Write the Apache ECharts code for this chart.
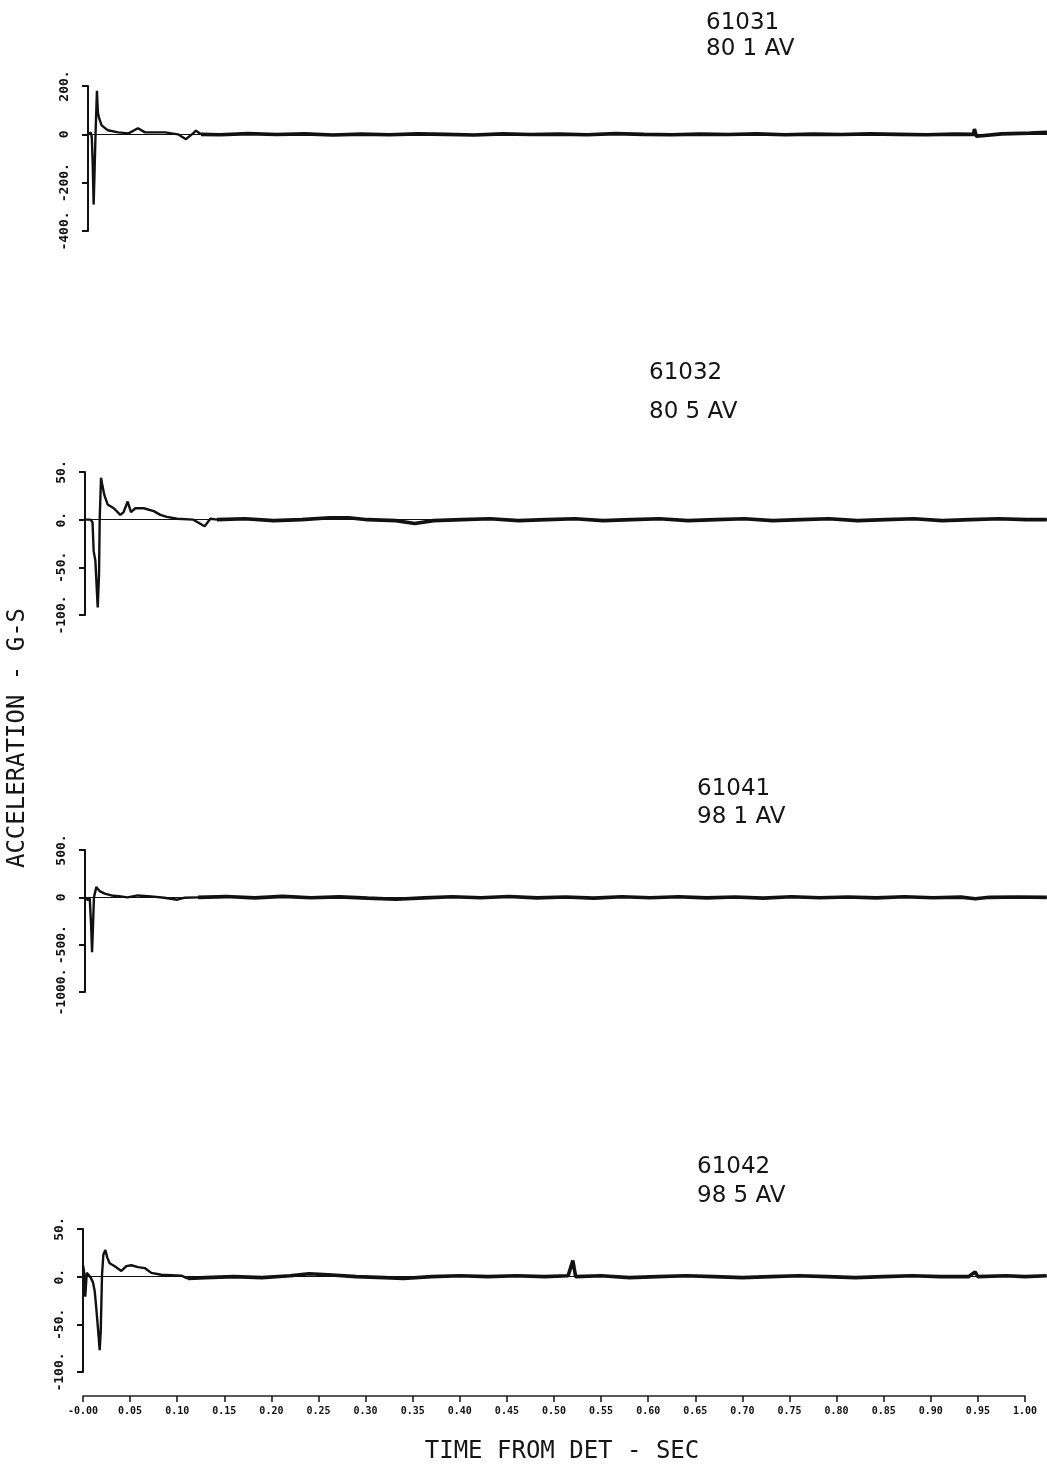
<!DOCTYPE html>
<html>
<head>
<meta charset="utf-8">
<script src="https://cdn.jsdelivr.net/npm/echarts@6/dist/echarts.min.js"></script>
<style>
html,body{margin:0;padding:0;background:#fff;}
#chart{width:1047px;height:1467px;}
</style>
</head>
<body>
<div id="chart"></div>
<script>
// ---------- DATA (time in sec, acceleration in G) ----------
// Panel 1: 61031 / 80 1 AV
var trans61031 = [[0,0],[0.002,-6],[0.003,8],[0.004,-12],[0.005,-120],[0.006,-290],[0.007,-150],[0.008,0],[0.0095,180],[0.0105,90],[0.0118,67],[0.0145,37],[0.021,17],[0.032,8],[0.043,4],[0.053,25],[0.0605,8],[0.082,8],[0.0955,0],[0.104,-20],[0.1115,4],[0.1146,15],[0.12,0]];
var flat61031 = [[0.12,0],[0.14,-2],[0.17,3],[0.2,-1],[0.23,2],[0.26,-3],[0.29,1],[0.32,-2],[0.35,2],[0.38,0],[0.41,-3],[0.44,2],[0.47,-1],[0.5,1],[0.53,-2],[0.56,3],[0.59,0],[0.62,-2],[0.65,1],[0.68,-1],[0.71,2],[0.74,-2],[0.77,1],[0.8,-1],[0.83,2],[0.86,0],[0.89,-2],[0.92,1],[0.94,0],[0.941,22],[0.943,-8],[0.945,0],[0.97,2],[1.0,5],[1.018,8]];
// Panel 2: 61032 / 80 5 AV
var trans61032 = [[0,0],[0.006,0],[0.008,-3],[0.0092,-33],[0.011,-43],[0.0135,-92],[0.0149,-57],[0.0156,0],[0.017,44],[0.0184,36],[0.0205,26],[0.0226,28],[0.024,16],[0.0305,12],[0.0375,5],[0.041,8],[0.0453,19],[0.0488,8],[0.0534,12],[0.0623,12],[0.073,9],[0.08,5],[0.087,3],[0.0977,1],[0.115,0],[0.127,-7],[0.133,1],[0.14,0]];
var flat61032 = [[0.14,0],[0.17,1],[0.2,-1],[0.23,0],[0.26,2],[0.28,2],[0.3,0],[0.33,-1],[0.35,-4],[0.37,-1],[0.4,0],[0.43,1],[0.46,-1],[0.49,0],[0.52,1],[0.55,-1],[0.58,0],[0.61,1],[0.64,-1],[0.67,0],[0.7,1],[0.73,-1],[0.76,0],[0.79,1],[0.82,-1],[0.85,0],[0.88,1],[0.91,-1],[0.94,0],[0.97,1],[1.0,0],[1.021,0]];
// Panel 3: 61041 / 98 1 AV
var trans61041 = [[0,0],[0.003,-30],[0.005,0],[0.0065,-300],[0.0075,-580],[0.0085,-300],[0.0095,0],[0.012,108],[0.0155,66],[0.021,40],[0.028,20],[0.038,10],[0.045,0],[0.056,20],[0.07,10],[0.084,-5],[0.098,-25],[0.105,-5],[0.12,0]];
var flat61041 = [[0.12,0],[0.15,8],[0.18,-6],[0.21,10],[0.24,-5],[0.27,5],[0.3,-8],[0.33,-20],[0.36,-6],[0.39,6],[0.42,-4],[0.45,8],[0.48,-6],[0.51,4],[0.54,-8],[0.57,6],[0.6,-4],[0.63,6],[0.66,-6],[0.69,4],[0.72,-8],[0.75,6],[0.78,-4],[0.81,4],[0.84,-6],[0.87,6],[0.9,-4],[0.93,2],[0.945,-15],[0.96,0],[0.99,4],[1.021,0]];
// Panel 4: 61042 / 98 5 AV
var trans61042 = [[0,12],[0.001,6],[0.0024,-21],[0.004,4],[0.006,4],[0.0082,-1],[0.0106,-6],[0.0124,-15],[0.0141,-33],[0.0167,-64],[0.0177,-77],[0.0188,-58],[0.0202,2],[0.0216,23],[0.0237,28],[0.0258,20],[0.0283,14],[0.0337,11],[0.0407,6],[0.046,11],[0.0513,12],[0.0584,10],[0.0655,9],[0.0725,4],[0.0831,2],[0.0937,1.5],[0.1044,1],[0.1115,-2]];
var flat61042 = [[0.1115,-2],[0.13,-1],[0.16,0],[0.19,-1],[0.22,1],[0.24,3],[0.26,2],[0.29,0],[0.32,-1],[0.34,-2],[0.37,0],[0.4,1],[0.43,0],[0.46,1],[0.49,0],[0.515,1],[0.52,17],[0.523,0],[0.55,1],[0.58,-1],[0.61,0],[0.64,1],[0.67,0],[0.7,-1],[0.73,0],[0.76,1],[0.79,0],[0.82,-1],[0.85,0],[0.88,1],[0.91,0],[0.94,0],[0.947,5],[0.95,0],[0.98,1],[1.0,0],[1.023,1]];

var titles = [["61031","80 1 AV"],["61032","80 5 AV"],["61041","98 1 AV"],["61042","98 5 AV"]];
var yMins = [-400,-100,-1000,-100];
var yMaxs = [200,50,500,50];
var yIntervals = [200,50,500,50];
var zeroLabels = ["0","0.","0","0."];
var timeMin = 0, timeMax = 1, timeStep = 0.05;

// ---------- LAYOUT ----------
var axisX = [88,85,85,83];       // pixel x of each panel's y-axis (t = 0)
var panelTop = [86,472,850,1229];
var panelBottom = [231,615,992,1372];
var pxPerSec = 942;
var xPad = 0.006;
var W = 1047;

var traces = [[trans61031,flat61031],[trans61032,flat61032],[trans61041,flat61041],[trans61042,flat61042]];

var grids = [], xAxes = [], yAxes = [], series = [];
for (var i = 0; i < 4; i++) {
  var left = axisX[i] - xPad * pxPerSec;
  grids.push({left: left, right: 0, top: panelTop[i], height: panelBottom[i] - panelTop[i]});
  xAxes.push({
    type: 'value', gridIndex: i, min: -xPad, max: (W - axisX[i]) / pxPerSec,
    axisLine: {show: true, onZero: true, lineStyle: {color: '#111', width: 1}},
    axisTick: {show: false}, axisLabel: {show: false}, splitLine: {show: false}
  });
  (function(zl){
  yAxes.push({
    type: 'value', gridIndex: i, min: yMins[i], max: yMaxs[i], interval: yIntervals[i],
    axisLine: {show: true, onZero: true, lineStyle: {color: '#111', width: 2}},
    axisTick: {show: true, inside: false, length: 6, lineStyle: {color: '#111', width: 2}},
    axisLabel: {show: true, rotate: 90, margin: 11, color: '#111',
      fontFamily: 'DejaVu Sans Mono', fontWeight: 'bold', fontSize: 13,
      formatter: function(v){ return v === 0 ? zl : (v + '.'); }},
    splitLine: {show: false}
  });
  })(zeroLabels[i]);
  series.push({type: 'line', xAxisIndex: i, yAxisIndex: i, data: traces[i][0], showSymbol: false,
    symbol: 'none', lineStyle: {color: '#111', width: 2.4}, animation: false});
  series.push({type: 'line', xAxisIndex: i, yAxisIndex: i, data: traces[i][1], showSymbol: false,
    symbol: 'none', lineStyle: {color: '#111', width: 3.6}, animation: false});
}
// time axis: line with downward ticks
grids.push({left: 83, width: pxPerSec * (timeMax - timeMin), top: 1396, height: 20});
xAxes.push({
  type: 'value', gridIndex: 4, min: timeMin, max: timeMax, interval: timeStep, position: 'top',
  axisLine: {show: true, onZero: false, lineStyle: {color: '#222', width: 1.5}},
  axisTick: {show: true, inside: true, length: 6, lineStyle: {color: '#111', width: 1.5}},
  axisLabel: {show: false},
  splitLine: {show: false}
});
// time axis labels
grids.push({left: 83, width: pxPerSec * (timeMax - timeMin), top: 1376, height: 20});
xAxes.push({
  type: 'value', gridIndex: 5, min: timeMin, max: timeMax, interval: timeStep, position: 'bottom',
  axisLine: {show: false}, axisTick: {show: false},
  axisLabel: {show: true, margin: 10, color: '#111', fontFamily: 'DejaVu Sans Mono', fontWeight: 'bold', fontSize: 10,
    formatter: function(v){ return v === 0 ? '-0.00' : v.toFixed(2); }},
  splitLine: {show: false}
});
yAxes.push({type: 'value', gridIndex: 4, show: false, min: 0, max: 1});
yAxes.push({type: 'value', gridIndex: 5, show: false, min: 0, max: 1});

var titlePos = [[706,24,50],[649,374,413],[697,790,818],[697,1168,1197]];
var graphics = [];
for (var j = 0; j < 4; j++) {
  graphics.push({type: 'text', left: titlePos[j][0], top: titlePos[j][1] - 12,
    style: {text: titles[j][0], font: '23px "DejaVu Sans"', fill: '#151515'}});
  graphics.push({type: 'text', left: titlePos[j][0], top: titlePos[j][2] - 12,
    style: {text: titles[j][1], font: '23px "DejaVu Sans"', fill: '#151515'}});
}
graphics.push({type: 'text', x: 562, y: 1452,
  style: {text: 'TIME FROM DET - SEC', font: '24px "DejaVu Sans Mono"', fill: '#151515', textAlign: 'center', textVerticalAlign: 'middle'}});
graphics.push({type: 'text', x: 18, y: 738, rotation: Math.PI / 2,
  style: {text: 'ACCELERATION - G-S', font: '24px "DejaVu Sans Mono"', fill: '#151515', textAlign: 'center', textVerticalAlign: 'middle'}});

var chart = echarts.init(document.getElementById('chart'), null, {renderer: 'canvas'});
chart.setOption({
  backgroundColor: '#ffffff',
  animation: false,
  grid: grids,
  xAxis: xAxes,
  yAxis: yAxes,
  series: series,
  graphic: graphics
});
</script>
</body>
</html>
